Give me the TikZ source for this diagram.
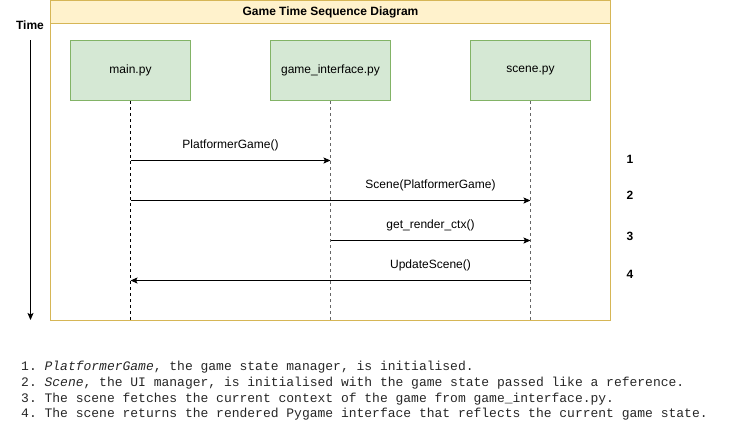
\documentclass[tikz,border=0pt]{standalone}
\usepackage{fontspec}
\setmainfont{Liberation Sans}
\setmonofont{Liberation Mono}
\usetikzlibrary{arrows.meta}
\definecolor{titlefill}{HTML}{FFF2CC}
\definecolor{titleline}{HTML}{D6B656}
\definecolor{boxfill}{HTML}{D5E8D4}
\definecolor{boxline}{HTML}{82B366}
\tikzset{
  lbl/.style={font=\fontsize{12}{14}\selectfont, inner sep=0pt},
  bold/.style={font=\fontsize{12}{14}\selectfont\bfseries, inner sep=0pt},
  actor/.style={draw=boxline, fill=boxfill, line width=1pt, minimum width=120pt, minimum height=60pt, inner sep=0pt, font=\fontsize{12}{14}\selectfont},
  life/.style={line width=1pt, dash pattern=on 3pt off 3pt},
  msg/.style={line width=1pt, -{Stealth[length=7pt,width=6pt,inset=1.5pt]}},
  note/.style={font=\fontsize{13}{16}\selectfont\ttfamily, text=black!85, inner sep=0pt, anchor=west}
}
\begin{document}
\begin{tikzpicture}[x=1pt,y=-1pt]
\useasboundingbox (0,0) rectangle (741,431);
% frame
\draw[draw=titleline, line width=1pt, fill=white] (50.5,0.5) rectangle (610.5,320.5);
\draw[draw=titleline, line width=1pt, fill=titlefill] (50.5,0.5) rectangle (610.5,23.5);
\node[bold] (title) at (330.5,12) {Game Time Sequence Diagram};
% time axis
\node[bold] (time) at (30,25) {Time};
\coordinate (t0) at (30.5,40);
\coordinate (t1) at (30.5,320);
\draw[msg] (t0) -- (t1);
% actors
\node[actor] (main) at (130.5,70.5) {main.py};
\node[actor] (gi) at (330.5,70.5) {game\_interface.py};
\node[actor] (sc) at (530.5,70.5) {scene.py};
\coordinate (mainE) at (130.5,320);
\coordinate (giE) at (330.5,320);
\coordinate (scE) at (530.5,320);
\draw[life] (main.south) -- (mainE);
\draw[life, black!60] (gi.south) -- (giE);
\draw[life, black!60] (sc.south) -- (scE);
% message points
\coordinate (m1) at (130.5,160.5);
\coordinate (g1) at (330.5,160.5);
\coordinate (m2) at (130.5,200.5);
\coordinate (s2) at (530.5,200.5);
\coordinate (g3) at (330.5,240.5);
\coordinate (s3) at (530.5,240.5);
\coordinate (s4) at (530.5,280.5);
\coordinate (m4) at (130.5,280.5);
\draw[msg] (m1) -- (g1);
\draw[msg] (m2) -- (s2);
\draw[msg] (g3) -- (s3);
\draw[msg] (s4) -- (m4);
\node[lbl] (l1) at (230.5,145) {PlatformerGame()};
\node[lbl] (l2) at (430.5,185) {Scene(PlatformerGame)};
\node[lbl] (l3) at (430.5,225) {get\_render\_ctx()};
\node[lbl] (l4) at (430.5,265) {UpdateScene()};
\node[bold] (n1) at (630,159) {1};
\node[bold] (n2) at (630,195) {2};
\node[bold] (n3) at (630,236) {3};
\node[bold] (n4) at (630,274) {4};
% notes
\node[note] (d1) at (21,367) {1. \textit{PlatformerGame}, the game state manager, is initialised.};
\node[note] (d2) at (21,383) {2. \textit{Scene}, the UI manager, is initialised with the game state passed like a reference.};
\node[note] (d3) at (21,399) {3. The scene fetches the current context of the game from game\_interface.py.};
\node[note] (d4) at (21,414) {4. The scene returns the rendered Pygame interface that reflects the current game state.};
\end{tikzpicture}
\end{document}
